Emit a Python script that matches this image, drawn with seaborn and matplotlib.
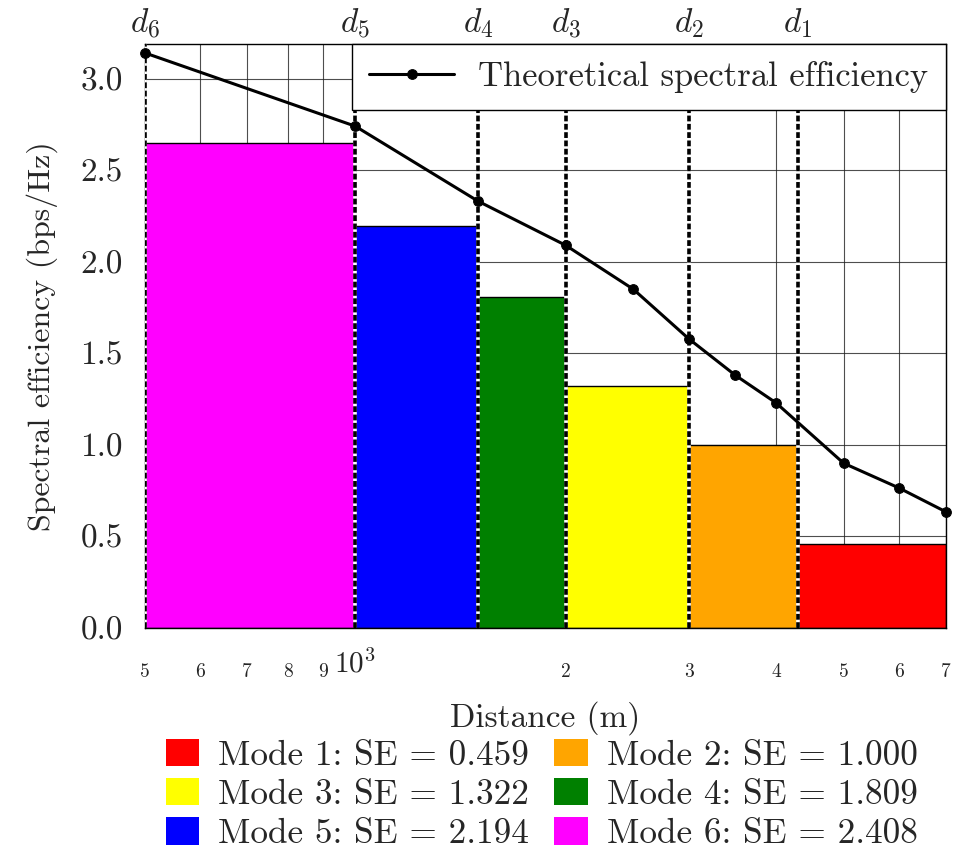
import numpy as np
import pandas as pd
import matplotlib
matplotlib.use("Agg")
import matplotlib.pyplot as plt
import matplotlib.ticker as mticker
from matplotlib.patches import Patch
import seaborn as sns

# distances (m) where the modes switch: d6, d5, d4, d3, d2, d1, end
limites = [500, 1000, 1500, 2000, 3000, 4300, 7000]
etiquetas_d = ["$d_6$", "$d_5$", "$d_4$", "$d_3$", "$d_2$", "$d_1$"]

# bars, from mode 6 (left) to mode 1 (right)
alturas = [2.65, 2.194, 1.809, 1.322, 1.000, 0.459]
colores = ["#ff00ff", "#0000ff", "#008000", "#ffff00", "#ffa500", "#ff0000"]

modos = ["Mode 1: SE = 0.459", "Mode 2: SE = 1.000", "Mode 3: SE = 1.322",
         "Mode 4: SE = 1.809", "Mode 5: SE = 2.194", "Mode 6: SE = 2.408"]
colores_modo = ["#ff0000", "#ffa500", "#ffff00", "#008000", "#0000ff", "#ff00ff"]

# theoretical curve
dist = [500, 1000, 1500, 2000, 2500, 3000, 3500, 4000, 5000, 6000, 7000]
se_teo = [3.14, 2.74, 2.33, 2.09, 1.85, 1.58, 1.38, 1.23, 0.90, 0.765, 0.635]

sns.set_style("whitegrid")
plt.rcParams["font.family"] = ["cmr10", "DejaVu Serif"]
plt.rcParams["mathtext.fontset"] = "cm"
plt.rcParams["axes.formatter.use_mathtext"] = True

fig = plt.figure(figsize=(9.66, 8.58), dpi=100)
ax = fig.add_axes([0.150, 0.268, 0.829, 0.681])

ax.set_xscale("log")
ax.set_xlim(500, 7000)
ax.set_ylim(0, 3.19)

izq = np.array(limites[:-1])
der = np.array(limites[1:])
ax.bar(izq, alturas, width=der - izq, align="edge", color=colores,
       edgecolor="black", linewidth=1, zorder=2)

for x in limites[:-1]:
    ax.axvline(x, color="white", lw=2.6, zorder=3)
    ax.axvline(x, color="black", lw=2.6, ls=(0, (1.6, 0.7)), zorder=3)

df = pd.DataFrame({"dist": dist, "se": se_teo})
sns.lineplot(data=df, x="dist", y="se", ax=ax, color="black", lw=2.2,
             marker="o", markersize=7, markeredgecolor="black",
             label="Theoretical spectral efficiency", zorder=4, clip_on=False)

ax.xaxis.set_major_locator(mticker.FixedLocator([1000]))
ax.xaxis.set_major_formatter(mticker.FixedFormatter(["$10^3$"]))
menores = [500, 600, 700, 800, 900, 2000, 3000, 4000, 5000, 6000, 7000]
ax.xaxis.set_minor_locator(mticker.FixedLocator(menores))
ax.xaxis.set_minor_formatter(mticker.FixedFormatter(
    ["5", "6", "7", "8", "9", "2", "3", "4", "5", "6", "7"]))
ax.yaxis.set_major_locator(mticker.MultipleLocator(0.5))
ax.yaxis.set_major_formatter(mticker.FormatStrFormatter("%.1f"))

ax.tick_params(axis="x", which="major", labelsize=21, length=0, pad=15)
ax.tick_params(axis="x", which="minor", labelsize=14, length=0, pad=25)
ax.tick_params(axis="y", labelsize=24, length=0, pad=16)

ax.grid(True, which="both", color="#222222", lw=0.8, alpha=0.8, zorder=0)
ax.set_axisbelow(True)
for s in ax.spines.values():
    s.set_color("black")
    s.set_linewidth(1)

ax.set_xlabel("Distance (m)", fontsize=24, labelpad=15)
ax.set_ylabel("Spectral efficiency (bps/Hz)", fontsize=23, labelpad=16)

ley = ax.legend(loc="upper right", fontsize=24.9, frameon=True, fancybox=False,
                framealpha=1, edgecolor="black", borderaxespad=0,
                handlelength=2.45, handletextpad=0.7, borderpad=0.5)
ley.get_frame().set_linewidth(1)
ley.set_zorder(10)

top = ax.twiny()
top.set_xscale("log")
top.set_xlim(ax.get_xlim())
top.xaxis.set_major_locator(mticker.FixedLocator(limites[:-1]))
top.xaxis.set_major_formatter(mticker.FixedFormatter(etiquetas_d))
top.xaxis.set_minor_locator(mticker.NullLocator())
top.tick_params(axis="x", labelsize=24, length=0, pad=3)
top.grid(False)
for s in top.spines.values():
    s.set_visible(False)

manijas = [Patch(facecolor=c, edgecolor="none") for c in colores_modo]
orden = [0, 2, 4, 1, 3, 5]
fig.legend([manijas[i] for i in orden], [modos[i] for i in orden],
           loc="lower center", bbox_to_anchor=(0.5606, -0.028), ncol=2,
           fontsize=25.4, frameon=False, handlelength=0.95, handleheight=0.82,
           columnspacing=0.73, labelspacing=0.18, handletextpad=0.53)

fig.savefig("out.png", dpi=100)
